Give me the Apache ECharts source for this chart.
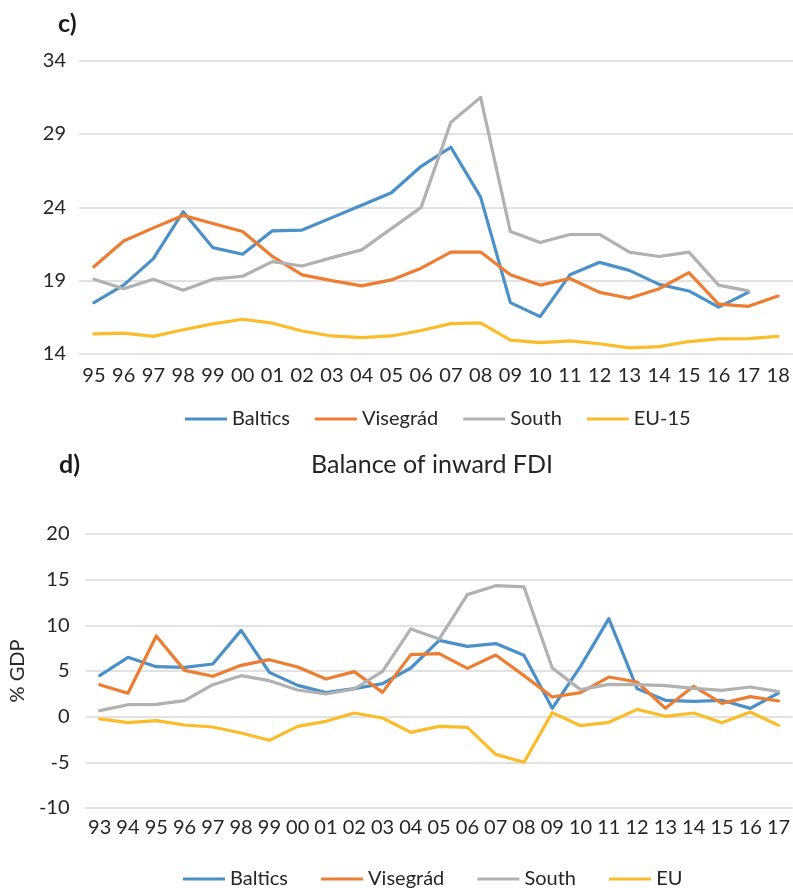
<!DOCTYPE html>
<html>
<head>
<meta charset="utf-8">
<script src="https://cdn.jsdelivr.net/npm/echarts@6/dist/echarts.min.js"></script>
<style>
  html, body { margin: 0; padding: 0; background: #fff; }
  #chart { width: 793px; height: 888px; }
</style>
</head>
<body>
<div id="chart"></div>
<script>
// Panel c) : 1995–2018
const yearsC = ['95','96','97','98','99','00','01','02','03','04','05','06','07','08','09','10','11','12','13','14','15','16','17','18'];
const balticsC = [17.5, 18.7, 20.5, 23.7, 21.25, 20.8, 22.4, 22.45, 23.3, 24.15, 25.0, 26.8, 28.1, 24.7, 17.5, 16.55, 19.4, 20.25, 19.7, 18.75, 18.3, 17.2, 18.2, null];
const visegradC = [19.95, 21.7, 22.6, 23.45, 22.9, 22.35, 20.65, 19.4, 19.0, 18.65, 19.05, 19.85, 20.95, 20.95, 19.4, 18.7, 19.15, 18.2, 17.8, 18.45, 19.55, 17.4, 17.25, 17.95];
const southC = [19.1, 18.45, 19.1, 18.35, 19.1, 19.3, 20.3, 20.0, 20.57, 21.1, 22.55, 24.0, 29.8, 31.5, 22.35, 21.6, 22.15, 22.15, 20.95, 20.65, 20.95, 18.7, 18.3, null];
const eu15C = [15.37, 15.42, 15.2, 15.65, 16.05, 16.37, 16.1, 15.57, 15.23, 15.12, 15.23, 15.6, 16.07, 16.12, 14.94, 14.78, 14.9, 14.7, 14.42, 14.5, 14.85, 15.03, 15.05, 15.2];

// Panel d) : Balance of inward FDI, 1993–2017
const yearsD = ['93','94','95','96','97','98','99','00','01','02','03','04','05','06','07','08','09','10','11','12','13','14','15','16','17'];
const balticsD = [4.49, 6.5, 5.47, 5.4, 5.77, 9.45, 4.85, 3.43, 2.63, 3.07, 3.61, 5.33, 8.36, 7.7, 8.0, 6.72, 0.91, 5.5, 10.73, 3.07, 1.79, 1.68, 1.79, 0.91, 2.59];
const visegradD = [3.5, 2.56, 8.83, 5.07, 4.42, 5.62, 6.24, 5.44, 4.12, 4.93, 2.66, 6.79, 6.9, 5.29, 6.75, 4.49, 2.15, 2.63, 4.34, 3.8, 0.91, 3.32, 1.46, 2.19, 1.72];
const southD = [0.66, 1.31, 1.35, 1.75, 3.5, 4.49, 3.94, 2.92, 2.48, 3.03, 4.96, 9.6, 8.5, 13.36, 14.34, 14.2, 5.33, 2.96, 3.54, 3.5, 3.39, 3.1, 2.88, 3.25, 2.74];
const euD = [-0.25, -0.66, -0.44, -0.91, -1.13, -1.79, -2.59, -1.06, -0.51, 0.4, -0.15, -1.72, -1.06, -1.17, -4.13, -5.0, 0.44, -0.99, -0.62, 0.8, 0.04, 0.4, -0.66, 0.51, -0.95];

const FONT = 'Lato, "Noto Sans", sans-serif';
const TXT = '#262626';
const COLORS = { baltics: '#4A90C9', visegrad: '#ED7D31', south: '#B1B1B1', eu: '#FBBC2A' };

function line(name, data, color, gi) {
  return {
    type: 'line', name: name, data: data,
    xAxisIndex: gi, yAxisIndex: gi,
    symbol: 'none', smooth: false, connectNulls: false,
    lineStyle: { color: color, width: 3.2, cap: 'round', join: 'round' },
    itemStyle: { color: color },
    emphasis: { disabled: true }
  };
}

const chart = echarts.init(document.getElementById('chart'), null, { renderer: 'canvas' });
chart.setOption({
  animation: false,
  backgroundColor: '#ffffff',
  textStyle: { fontFamily: FONT, color: TXT },
  title: [
    { text: 'c)', left: 53, top: 6, textStyle: { fontFamily: FONT, fontSize: 25, fontWeight: 'bold', color: '#1a1a1a' } },
    { text: 'd)', left: 54, top: 447, textStyle: { fontFamily: FONT, fontSize: 25, fontWeight: 'bold', color: '#1a1a1a' } },
    { text: 'Balance of inward FDI', left: 427, textAlign: 'center', top: 447, textStyle: { fontFamily: FONT, fontSize: 25, fontWeight: 'normal', color: TXT } }
  ],
  legend: [
    {
      left: 180, top: 404, icon: 'rect', itemWidth: 42, itemHeight: 3, itemGap: 25,
      textStyle: { fontFamily: FONT, fontSize: 20, color: TXT, padding: [0, 0, 0, 0] },
      data: ['Baltics', 'Visegrád', 'South', 'EU-15']
    },
    {
      left: 178, top: 864, icon: 'rect', itemWidth: 42, itemHeight: 3, itemGap: 28,
      textStyle: { fontFamily: FONT, fontSize: 20, color: TXT, padding: [0, 0, 0, 0] },
      data: ['Baltics ', 'Visegrád ', 'South ', 'EU']
    }
  ],
  grid: [
    { left: 79, right: 0, top: 60.7, height: 293.3, containLabel: false },
    { left: 78.4, right: 0, top: 534, height: 274, containLabel: false }
  ],
  xAxis: [
    {
      type: 'category', gridIndex: 0, data: yearsC, boundaryGap: true,
      axisLine: { show: false }, axisTick: { show: false },
      axisLabel: { fontFamily: FONT, fontSize: 20, color: TXT, margin: 12, interval: 0 }
    },
    {
      type: 'category', gridIndex: 1, data: yearsD, boundaryGap: true,
      axisLine: { show: false }, axisTick: { show: false },
      axisLabel: { fontFamily: FONT, fontSize: 20, color: TXT, margin: 10, interval: 0 }
    }
  ],
  yAxis: [
    {
      type: 'value', gridIndex: 0, min: 14, max: 34, interval: 5,
      axisLine: { show: false }, axisTick: { show: false },
      splitLine: { lineStyle: { color: '#D9D9D9', width: 1.5 } },
      axisLabel: { fontFamily: FONT, fontSize: 20, color: TXT, margin: 13 }
    },
    {
      type: 'value', gridIndex: 1, min: -10, max: 20, interval: 5,
      name: '% GDP', nameLocation: 'middle', nameGap: 56, nameRotate: 90,
      nameTextStyle: { fontFamily: FONT, fontSize: 20, color: TXT },
      axisLine: { show: false }, axisTick: { show: false },
      splitLine: { lineStyle: { color: '#D9D9D9', width: 1.5 } },
      axisLabel: { fontFamily: FONT, fontSize: 20, color: TXT, margin: 16 }
    }
  ],
  series: [
    line('Baltics', balticsC, COLORS.baltics, 0),
    line('Visegrád', visegradC, COLORS.visegrad, 0),
    line('South', southC, COLORS.south, 0),
    line('EU-15', eu15C, COLORS.eu, 0),
    line('Baltics ', balticsD, COLORS.baltics, 1),
    line('Visegrád ', visegradD, COLORS.visegrad, 1),
    line('South ', southD, COLORS.south, 1),
    line('EU', euD, COLORS.eu, 1)
  ]
});
</script>
</body>
</html>
